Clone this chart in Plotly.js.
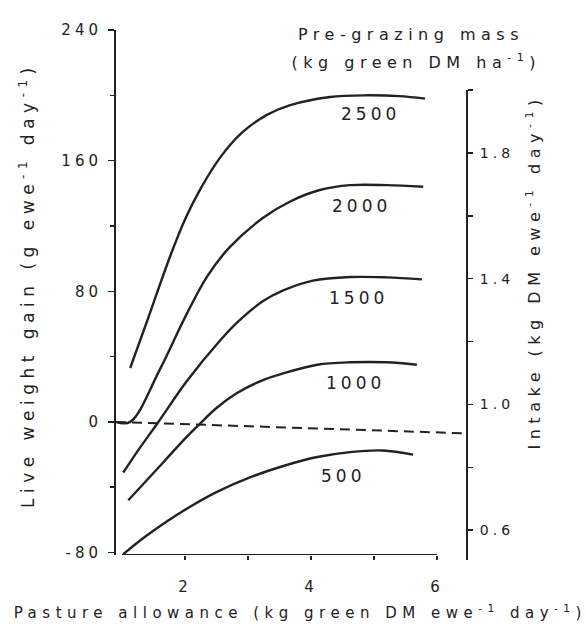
<!DOCTYPE html>
<html>
<head>
<meta charset="utf-8">
<script src="https://cdn.plot.ly/plotly-3.0.1.min.js"></script>
<style>
  html, body { margin: 0; padding: 0; background: #fff; }
  #chart { width: 587px; height: 630px; }
  .main-svg text { letter-spacing: 4px; }
  .main-svg .annotation-text { letter-spacing: 5.5px; }
  .main-svg .curve-label .annotation-text { letter-spacing: 4px; }
</style>
</head>
<body>
<div id="chart"></div>
<script>
// ---- Data ----
// Pasture allowance (kg green DM ewe-1 day-1) vs live weight gain (g ewe-1 day-1)
const massLabels = ["2500", "2000", "1500", "1000", "500"];

const allowance2500 = [1.13, 1.41, 1.76, 2.0, 2.25, 2.56, 2.9, 3.3, 3.67, 4.3, 4.9, 5.4, 5.81];
const gain2500      = [33, 63, 101, 124, 143, 162, 177, 188, 194, 199, 200, 199.5, 198];

const allowance2000 = [0.905, 1.13, 1.6, 2.0, 2.35, 2.71, 3.24, 3.67, 4.14, 4.62, 5.2, 5.78];
const gain2000      = [0, 0, 32, 64, 89, 107, 125, 135, 142, 145, 145, 144];

const allowance1500 = [1.02, 1.3, 1.57, 2.03, 2.56, 2.83, 3.24, 3.56, 4.03, 4.62, 5.2, 5.76];
const gain1500      = [-31, -15, -0.5, 25, 50, 61, 74, 80.5, 86.5, 88.7, 88.5, 87.3];

const allowance1000 = [1.1, 1.65, 2.03, 2.24, 2.5, 2.82, 3.2, 3.56, 4.1, 4.62, 5.2, 5.68];
const gain1000      = [-48, -25, -9, -1, 8.5, 17.5, 25, 29.7, 35, 36.5, 36.5, 35];

const allowance500 = [1.02, 1.35, 1.71, 2.1, 2.5, 3.03, 3.56, 4.1, 4.62, 5.14, 5.62];
const gain500      = [-81, -70.8, -61, -51.5, -43, -34, -27, -21.5, -18.5, -17.5, -20];

// zero-gain (maintenance) reference line
const zeroLineX = [0.905, 6.45];
const zeroLineY = [0, -7];

// axis ticks
const xTickVals = [2, 4, 6];
const xTickText = ["2", "4", "6"];
const yTickVals = [-80, 0, 80, 160, 240];
const yTickText = ["-80", "0", "80", "160", "240"];
const y2TickVals = [0.6, 1.0, 1.4, 1.8];
const y2TickText = ["0.6", "1.0", "1.4", "1.8"];

// ---- Layout geometry (pixels) ----
const W = 587, H = 630;
const PL = 116, PR = 467, PT = 30, PB = 560;
const fx = p => (p - PL) / (PR - PL);
const fy = p => (PB - p) / (PB - PT);

const ink = "#222";
const font = { family: "DejaVu Sans, sans-serif", color: ink };

const series = [
  [allowance2500, gain2500],
  [allowance2000, gain2000],
  [allowance1500, gain1500],
  [allowance1000, gain1000],
  [allowance500, gain500]
];

const traces = series.map((s, i) => ({
  type: "scatter", mode: "lines",
  x: s[0], y: s[1],
  name: massLabels[i],
  line: { color: ink, width: 2.4, shape: "spline", smoothing: 1 },
  hoverinfo: "skip", showlegend: false
}));

traces.push({
  type: "scatter", mode: "lines",
  x: zeroLineX, y: zeroLineY,
  line: { color: ink, width: 2, dash: "10px,6px" },
  hoverinfo: "skip", showlegend: false
});

// dummy trace so the intake axis is drawn
traces.push({
  type: "scatter", mode: "markers", x: [null], y: [null],
  xaxis: "x", yaxis: "y2", showlegend: false, hoverinfo: "skip"
});

const labelX = [4.95, 4.8, 4.75, 4.7, 4.5];
const labelShift = [-19, -21, -21, -21, -26];
const curveLabels = series.map((s, i) => ({
  xref: "x", yref: "y",
  x: labelX[i], y: Math.max(...s[1]),
  yshift: labelShift[i],
  text: massLabels[i], showarrow: false,
  xanchor: "center", yanchor: "middle",
  font: Object.assign({ size: 17 }, font)
}));

const textAnn = (text, xp, yp, size, angle) => ({
  xref: "paper", yref: "paper", x: fx(xp), y: fy(yp),
  text: text, showarrow: false, xanchor: "center", yanchor: "middle",
  textangle: angle || 0,
  font: Object.assign({ size: size }, font)
});

const annotations = curveLabels.concat([
  textAnn("Pre-grazing mass", 411, 34, 16),
  textAnn("(kg green DM ha<sup>-1</sup>)", 416, 62, 16),
  textAnn("Live weight gain (g ewe<sup>-1</sup> day<sup>-1</sup>)", 27, 285, 17, -90),
  textAnn("Intake (kg DM ewe<sup>-1</sup> day<sup>-1</sup>)", 533, 272, 16, -90),
  textAnn("Pasture allowance (kg green DM ewe<sup>-1</sup> day<sup>-1</sup>)", 300, 612, 15)
]);

const layout = {
  width: W, height: H,
  margin: { l: PL, r: W - PR, t: PT, b: H - PB },
  paper_bgcolor: "#fff", plot_bgcolor: "rgba(0,0,0,0)",
  font: font,
  showlegend: false,
  xaxis: {
    range: [0.905, 6.476], domain: [0, 1], anchor: "y",
    showline: false, showgrid: false, zeroline: false,
    tickmode: "array", tickvals: xTickVals, ticktext: xTickText,
    ticks: "outside", ticklen: 4, tickwidth: 1.5, tickcolor: ink,
    ticklabelstandoff: 14,
    minor: { tickmode: "array", tickvals: [3, 5], ticks: "outside", ticklen: 4, tickwidth: 1.5, tickcolor: ink, showgrid: false },
    tickfont: { size: 15, color: ink, family: font.family }
  },
  yaxis: {
    range: [-81.5, 240], domain: [fy(555), 1], anchor: "x", side: "left",
    showline: true, linecolor: ink, linewidth: 2,
    showgrid: false, zeroline: false,
    tickmode: "array", tickvals: yTickVals, ticktext: yTickText,
    ticks: "outside", ticklen: 6, tickwidth: 1.5, tickcolor: ink,
    ticklabelstandoff: 3,
    minor: { tickmode: "linear", tick0: 0, dtick: 40, ticks: "outside", ticklen: 4, tickwidth: 1.5, tickcolor: ink, showgrid: false },
    tickfont: { size: 15, color: ink, family: font.family }
  },
  yaxis2: {
    range: [0.505, 2.0], domain: [0, fy(90)],
    anchor: "free", position: 1, side: "right",
    showline: true, linecolor: ink, linewidth: 2,
    showgrid: false, zeroline: false,
    tickmode: "array", tickvals: y2TickVals, ticktext: y2TickText,
    ticks: "outside", ticklen: 5, tickwidth: 1.5, tickcolor: ink,
    ticklabelstandoff: 4,
    minor: { tickmode: "array", tickvals: [0.8, 1.2, 1.6, 2.0], ticks: "outside", ticklen: 5, tickwidth: 1.5, tickcolor: ink, showgrid: false },
    tickfont: { size: 14, color: ink, family: font.family }
  },
  shapes: [
    { type: "line", xref: "x", yref: "y", x0: 1, x1: 6, y0: -81.5, y1: -81.5,
      line: { color: ink, width: 2 } }
  ],
  annotations: annotations
};

Plotly.newPlot("chart", traces, layout, { displayModeBar: false, staticPlot: true }).then(gd => {
  // mark curve-label annotations so they keep the tighter letter spacing
  const groups = gd.querySelectorAll(".annotation");
  for (let i = 0; i < curveLabels.length && i < groups.length; i++) {
    groups[i].classList.add("curve-label");
  }
});
</script>
</body>
</html>
